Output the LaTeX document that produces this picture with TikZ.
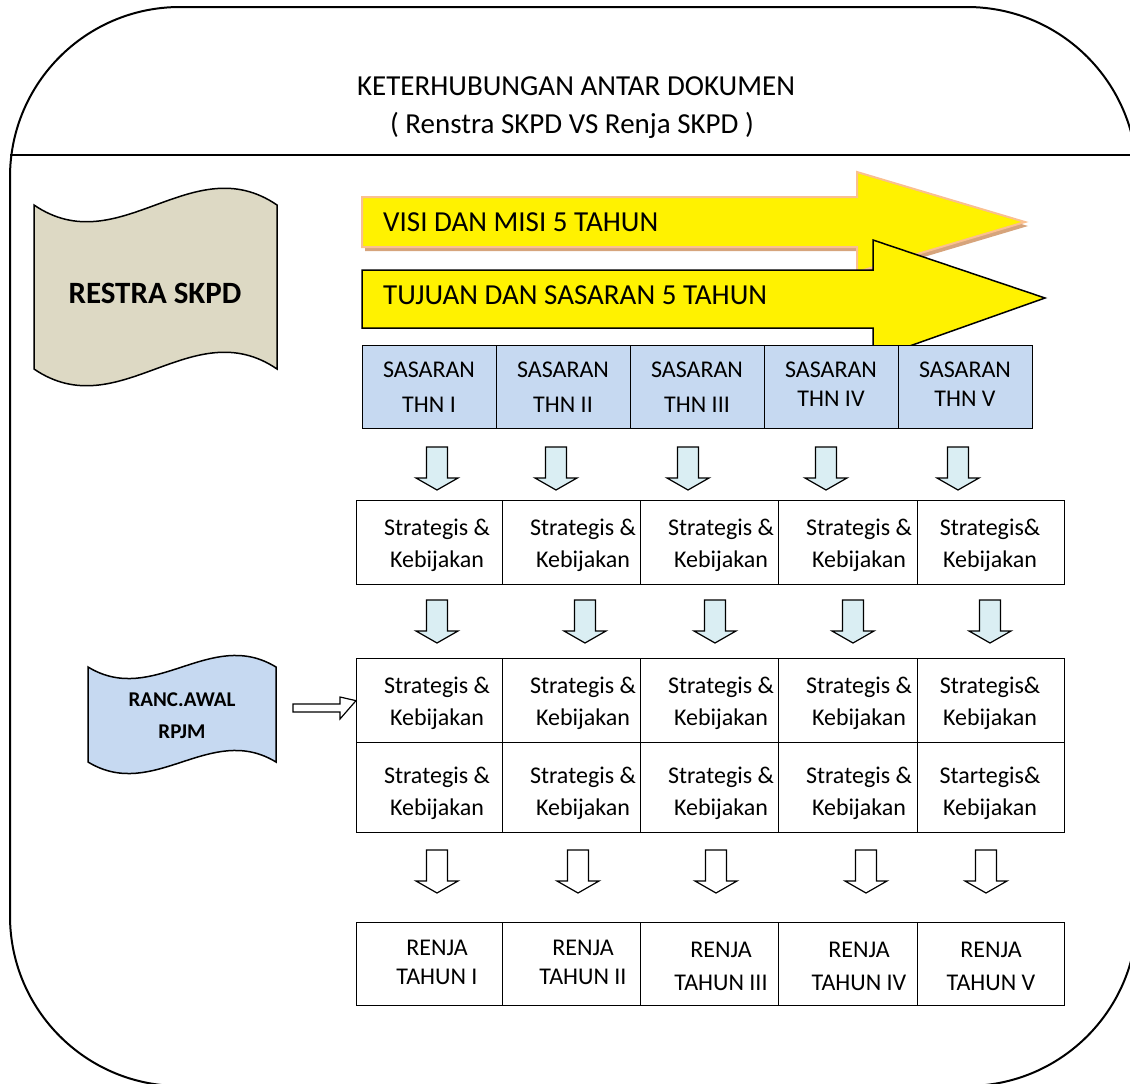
\documentclass[tikz,border=0pt]{standalone}
\usepackage{fontspec}
\setmainfont{Carlito}
\definecolor{docbeige}{HTML}{DDD9C4}
\definecolor{lblue}{HTML}{C6D9F1}
\definecolor{ablue}{HTML}{DAEEF3}
\definecolor{peach}{HTML}{FAC090}
\definecolor{shadowc}{HTML}{D6A47C}
\newcommand\wdoc[6]{% x0 x1 ytop ybot curl fill
  \draw[docline, fill=#6] (#1,#3) .. controls ({#1+0.35*(#2-#1)},{#3+#5}) and ({#1+0.65*(#2-#1)},{#3-#5}) .. (#2,#3)
    -- (#2,#4) .. controls ({#1+0.65*(#2-#1)},{#4-#5}) and ({#1+0.35*(#2-#1)},{#4+#5}) .. (#1,#4) -- cycle;}
\newcommand\darr[3]{% x ytop fill
  \draw[arr, fill=#3] ({#1-10.5},#2) -- ({#1+10.5},#2) -- ({#1+10.5},{#2+31}) -- ({#1+21},{#2+31})
    -- (#1,{#2+43}) -- ({#1-21},{#2+31}) -- ({#1-10.5},{#2+31}) -- cycle;}
\newcommand\twoline[6]{% name x y1 y2 line1 line2
  \node[lbl] (#1a) at (#2,{#3+7.5}) {#5};
  \node[lbl] (#1b) at (#2,{#4+7.5}) {#6};}
\begin{document}
\begin{tikzpicture}[x=1pt,y=-1pt,
  bx/.style={draw=black, line width=1.3pt, inner sep=0pt, anchor=north west},
  arr/.style={draw=black, line width=1.2pt, line join=miter},
  docline/.style={draw=black, line width=1.5pt},
  lbl/.style={inner sep=0pt, anchor=base, font=\fontsize{24}{28}\selectfont},
  big/.style={inner sep=0pt, anchor=base, font=\fontsize{29}{34}\selectfont},
]
\useasboundingbox (0,0) rectangle (1130,1084);
\clip (0,0) rectangle (1130,1084);
% frame
\draw[line width=2pt, rounded corners=170pt] (10,7) rectangle (1137,1086);
\draw[line width=2pt] (10,155) -- (1137,155);
% title
\node[big] (t1) at (576,95) {KETERHUBUNGAN ANTAR DOKUMEN};
\node[big] (t2) at (572,133) {( Renstra SKPD VS Renja SKPD )};
% big arrows
\fill[shadowc, shift={(3,4)}] (362,197) -- (857,197) -- (857,172) -- (1025,222) -- (857,272) -- (857,247) -- (362,247) -- cycle;
\draw[draw=peach, fill=yellow, line width=2pt] (362,197) -- (857,197) -- (857,172) -- (1025,222) -- (857,272) -- (857,247) -- (362,247) -- cycle;
\node[big, anchor=base west] (visi) at (383,231) {VISI DAN MISI 5 TAHUN};
\draw[draw=black, fill=yellow, line width=1.5pt] (362,270) -- (873,270) -- (873,240) -- (1045,298) -- (873,359) -- (873,328) -- (362,328) -- cycle;
\node[big, anchor=base west] (tuj) at (383,304) {TUJUAN DAN SASARAN 5 TAHUN};
% documents
\wdoc{34}{277}{205}{369}{58}{docbeige}
\node[inner sep=0pt, anchor=base, font=\fontsize{31}{34}\selectfont\bfseries] (restra) at (155,303) {RESTRA SKPD};
\wdoc{88}{276}{667}{762}{40}{lblue}
\node[inner sep=0pt, anchor=base, font=\fontsize{21}{25}\selectfont\bfseries] (ranca) at (182,706) {RANC.AWAL};
\node[inner sep=0pt, anchor=base, font=\fontsize{21}{25}\selectfont\bfseries] (rancb) at (182,738) {RPJM};
% sasaran boxes
\foreach \i/\a in {1/362,2/496,3/630,4/764,5/898}{
  \node[bx, fill=lblue, minimum width=134pt, minimum height=83pt] (s\i) at (\a,345) {};
}
\twoline{st1}{429}{370}{405}{SASARAN}{THN I}
\twoline{st2}{563}{370}{405}{SASARAN}{THN II}
\twoline{st3}{697}{370}{405}{SASARAN}{THN III}
\twoline{st4}{831}{370}{399}{SASARAN}{THN IV}
\twoline{st5}{965}{370}{399}{SASARAN}{THN V}
% arrows row A
\foreach \x in {437,556,688,826,958}{\darr{\x}{447}{ablue}}
% strategy rows
\foreach \r/\t/\h in {a/500/84, b/658/84, c/742/90, d/922/83}{
  \foreach \i/\a/\b in {1/356/502,2/502/640,3/640/778,4/778/917,5/917/1064}{
    \node[bx, fill=white, minimum width={(\b-\a)*1pt}, minimum height={\h*1pt}] (\r\i) at (\a,\t) {};
  }
}
\twoline{ka1}{437}{528}{560}{Strategis \&}{Kebijakan}
\twoline{ka2}{583}{528}{560}{Strategis \&}{Kebijakan}
\twoline{ka3}{721}{528}{560}{Strategis \&}{Kebijakan}
\twoline{ka4}{859}{528}{560}{Strategis \&}{Kebijakan}
\twoline{ka5}{990}{528}{560}{Strategis\&}{Kebijakan}
\foreach \x in {437,585,715,853,990}{\darr{\x}{600}{ablue}}
\twoline{kb1}{437}{686}{718}{Strategis \&}{Kebijakan}
\twoline{kb2}{583}{686}{718}{Strategis \&}{Kebijakan}
\twoline{kb3}{721}{686}{718}{Strategis \&}{Kebijakan}
\twoline{kb4}{859}{686}{718}{Strategis \&}{Kebijakan}
\twoline{kb5}{990}{686}{718}{Strategis\&}{Kebijakan}
\twoline{kc1}{437}{776}{808}{Strategis \&}{Kebijakan}
\twoline{kc2}{583}{776}{808}{Strategis \&}{Kebijakan}
\twoline{kc3}{721}{776}{808}{Strategis \&}{Kebijakan}
\twoline{kc4}{859}{776}{808}{Strategis \&}{Kebijakan}
\twoline{kc5}{990}{776}{808}{Startegis\&}{Kebijakan}
\foreach \x in {437,578,716,866,986}{\darr{\x}{850}{white}}
\twoline{rj1}{437}{948}{977}{RENJA}{TAHUN I}
\twoline{rj2}{583}{948}{977}{RENJA}{TAHUN II}
\twoline{rj3}{721}{950}{983}{RENJA}{TAHUN III}
\twoline{rj4}{859}{950}{983}{RENJA}{TAHUN IV}
\twoline{rj5}{991}{950}{983}{RENJA}{TAHUN V}
% arrow from RANC.AWAL to row b
\draw[arr, fill=white] (293,704) -- (340,704) -- (340,697) -- (b1.west) -- (340,719) -- (340,712) -- (293,712) -- cycle;
\end{tikzpicture}
\end{document}
